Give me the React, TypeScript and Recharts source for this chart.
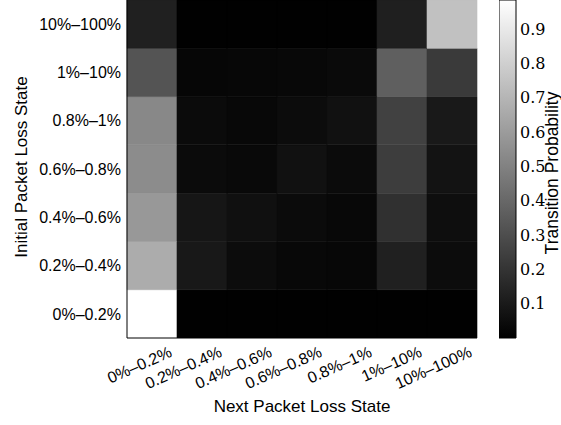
import React from 'react';
import { BarChart, Bar, XAxis, YAxis, Cell, Label } from 'recharts';

// Next packet loss state (columns) and initial packet loss state (rows)
const nextStates = ['0%–0.2%', '0.2%–0.4%', '0.4%–0.6%', '0.6%–0.8%', '0.8%–1%', '1%–10%', '10%–100%'];
const initialStates = ['0%–0.2%', '0.2%–0.4%', '0.4%–0.6%', '0.6%–0.8%', '0.8%–1%', '1%–10%', '10%–100%'];

// Transition probabilities, one array per initial state (values across next states)
const from0to02 = [0.984, 0.003, 0.003, 0.003, 0.003, 0.003, 0.003];
const from02to04 = [0.664, 0.093, 0.046, 0.031, 0.027, 0.124, 0.046];
const from04to06 = [0.587, 0.085, 0.062, 0.042, 0.031, 0.185, 0.054];
const from06to08 = [0.54, 0.042, 0.035, 0.066, 0.042, 0.235, 0.073];
const from08to1 = [0.525, 0.042, 0.031, 0.046, 0.066, 0.25, 0.097];
const from1to10 = [0.324, 0.023, 0.027, 0.031, 0.039, 0.367, 0.224];
const from10to100 = [0.125, 0.002, 0.002, 0.002, 0.002, 0.12, 0.745];

const rows = [from0to02, from02to04, from04to06, from06to08, from08to1, from1to10, from10to100];

const colorbarMax = 0.984;
const colorbarTicks = [0.1, 0.2, 0.3, 0.4, 0.5, 0.6, 0.7, 0.8, 0.9];
const rowTicks = [0.5, 1.5, 2.5, 3.5, 4.5, 5.5, 6.5];

const SANS = '"Liberation Sans", Arial, sans-serif';
const SERIF = '"DejaVu Serif", serif';

const gray = (v: number) => {
  const g = Math.max(0, Math.min(255, Math.round((255 * v) / colorbarMax)));
  return `rgb(${g},${g},${g})`;
};

// one data entry per next state; each stacked segment (row) has height 1
const data = nextStates.map((name) => {
  const entry: Record<string, any> = { name };
  initialStates.forEach((_, r) => {
    entry[`r${r}`] = 1;
  });
  return entry;
});

const cbData = [{ name: 'cb', v: colorbarMax }];

const XTick = (props: any) => {
  const { x, y, payload } = props;
  const ax = x + 21;
  const ay = y + 18;
  return (
    <text
      x={ax}
      y={ay}
      textAnchor="end"
      transform={`rotate(-24 ${ax} ${ay})`}
      fontSize={16}
      fontFamily={SANS}
      fill="#000"
    >
      {payload.value}
    </text>
  );
};

export default function App() {
  return (
    <div style={{ position: 'absolute', left: 0, top: 0, width: 561, height: 425, background: '#fff' }}>
      <div style={{ position: 'absolute', left: 0, top: 0 }}>
        <BarChart
          width={500}
          height={425}
          data={data}
          margin={{ top: 0, right: 23, left: 0, bottom: 0 }}
          barCategoryGap={0}
          barGap={0}
        >
          <XAxis
            dataKey="name"
            type="category"
            height={87}
            tickLine={false}
            tickSize={0}
            tickMargin={0}
            axisLine={{ stroke: '#000', strokeWidth: 1 }}
            tick={<XTick />}
            interval={0}
          >
            <Label
              content={(p: any) => {
                const vb = p.viewBox || {};
                return (
                  <text
                    x={vb.x + vb.width / 2}
                    y={vb.y + 74}
                    textAnchor="middle"
                    fontSize={17}
                    fontFamily={SANS}
                    fill="#000"
                  >
                    Next Packet Loss State
                  </text>
                );
              }}
            />
          </XAxis>
          <XAxis
            xAxisId="top"
            dataKey="name"
            orientation="top"
            height={0}
            tick={false}
            tickLine={false}
            axisLine={{ stroke: '#000', strokeWidth: 1 }}
          />
          <YAxis
            type="number"
            domain={[0, 7]}
            ticks={rowTicks}
            tickFormatter={(v: number) => initialStates[Math.floor(v)]}
            width={127}
            tickLine={false}
            tickSize={0}
            tickMargin={6}
            axisLine={{ stroke: '#000', strokeWidth: 1 }}
            tick={{ fill: '#000', fontSize: 16, fontFamily: SANS }}
            allowDataOverflow
          >
            <Label
              content={(p: any) => {
                const vb = p.viewBox || {};
                const cx = 27;
                const cy = vb.y + vb.height / 2 - 2;
                return (
                  <text
                    x={cx}
                    y={cy}
                    textAnchor="middle"
                    transform={`rotate(-90 ${cx} ${cy})`}
                    fontSize={17}
                    fontFamily={SANS}
                    fill="#000"
                  >
                    Initial Packet Loss State
                  </text>
                );
              }}
            />
          </YAxis>
          <YAxis
            yAxisId="right"
            orientation="right"
            type="number"
            domain={[0, 7]}
            width={0}
            tick={false}
            tickLine={false}
            axisLine={{ stroke: '#000', strokeWidth: 1 }}
          />
          {initialStates.map((_, r) => (
            <Bar key={r} dataKey={`r${r}`} stackId="heat" isAnimationActive={false}>
              {nextStates.map((__, c) => (
                <Cell key={c} fill={gray(rows[r][c])} stroke={gray(rows[r][c])} strokeWidth={0.6} />
              ))}
            </Bar>
          ))}
        </BarChart>
      </div>
      <div style={{ position: 'absolute', left: 499, top: 0 }}>
        <BarChart
          width={62}
          height={425}
          data={cbData}
          margin={{ top: 0, right: 0, left: 0, bottom: 87 }}
          barCategoryGap={0}
          barGap={0}
        >
          <defs>
            <linearGradient id="cbGrad" x1="0" y1="0" x2="0" y2="1">
              <stop offset="0%" stopColor="#ffffff" />
              <stop offset="100%" stopColor="#000000" />
            </linearGradient>
          </defs>
          <XAxis dataKey="name" hide />
          <YAxis
            orientation="right"
            type="number"
            domain={[0, colorbarMax]}
            ticks={colorbarTicks}
            width={45}
            tickLine={false}
            tickSize={0}
            tickMargin={4}
            axisLine={false}
            tick={{ fill: '#000', fontSize: 16, fontFamily: SERIF }}
          >
            <Label
              content={(p: any) => {
                const vb = p.viewBox || {};
                const cx = 558;
                const lx = cx - 499;
                const cy = vb.y + vb.height / 2 + 4;
                return (
                  <text
                    x={lx}
                    y={cy}
                    textAnchor="middle"
                    transform={`rotate(-90 ${lx} ${cy})`}
                    fontSize={17.5}
                    fontFamily={SANS}
                    fill="#000"
                  >
                    Transition Probability
                  </text>
                );
              }}
            />
          </YAxis>
          <Bar dataKey="v" fill="url(#cbGrad)" stroke="#000" strokeWidth={1} isAnimationActive={false} />
        </BarChart>
      </div>
    </div>
  );
}
